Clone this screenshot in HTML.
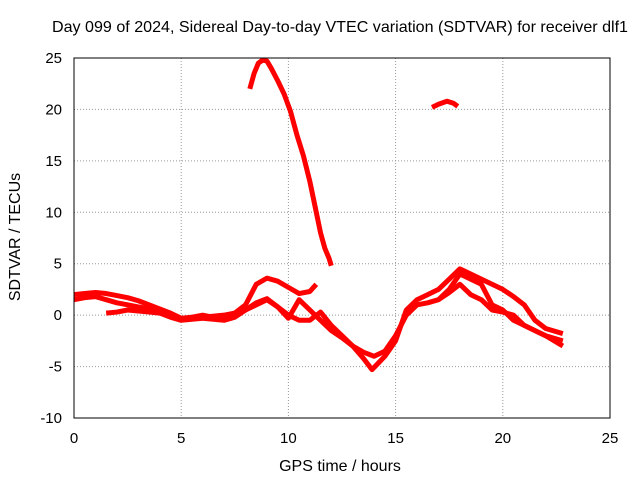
<!DOCTYPE html>
<html><head><meta charset="utf-8"><style>
body{margin:0;background:#fff}
svg{display:block;font-family:"Liberation Sans",sans-serif}
</style></head><body>
<svg id="chart" width="640" height="480">
<text x="340" y="32" text-anchor="middle" font-size="16" textLength="576" lengthAdjust="spacingAndGlyphs">Day 099 of 2024, Sidereal Day-to-day VTEC variation (SDTVAR) for receiver dlf1</text>
<text x="340" y="471" text-anchor="middle" font-size="16">GPS time / hours</text>
<text transform="translate(20,237) rotate(-90)" text-anchor="middle" font-size="16">SDTVAR / TECUs</text>
<g id="grid"></g><g id="marks"></g>
<rect x="74" y="58" width="536" height="360" fill="none" stroke="#000"/>
</svg>
<script>
const xTicks=[0,5,10,15,20,25];
const yTicks=[-10,-5,0,5,10,15,20,25];
const s1x=[8.2,8.4,8.6,8.8,9.0,9.2,9.5,9.8,10.1,10.4,10.7,11.0,11.3,11.5,11.7,11.9,12.0];
const s1y=[22,23.5,24.5,24.8,24.7,24,22.8,21.5,19.8,17.5,15.5,13,10,8,6.5,5.5,4.8];
const s2x=[16.7,17.0,17.4,17.7,17.9];
const s2y=[20.2,20.5,20.8,20.6,20.3];
const s3x=[0,0.5,1,1.5,2,2.5,3,3.5,4,4.5,5,5.5,6,6.5,7,7.5,8,8.5,9,9.5,10,10.5,11,11.3];
const s3y=[2,2.1,2.2,2.1,1.9,1.7,1.4,1.0,0.6,0.2,-0.3,-0.2,0,-0.2,-0.3,0.2,1.0,3.0,3.6,3.3,2.7,2.1,2.3,3.0];
const s4x=[0,0.5,1,1.5,2,2.5,3,3.5,4,4.5,5,6,7,7.5,8,8.5,9,9.5,10,10.5,11,11.5,12,12.5,13,13.5,14,14.5,15,15.5,16,16.5,17,17.5,18,18.5,19,19.5,20,20.5,21,21.5,22,22.8];
const s4y=[1.5,1.7,1.8,1.5,1.2,1.0,0.8,0.6,0.3,0,-0.4,-0.2,0,0.2,0.5,1.2,1.6,0.8,-0.3,1.5,0.5,-0.5,-1.5,-2.2,-3.0,-3.6,-4.0,-3.5,-2.0,0,1.0,1.2,1.5,2.5,4.0,3.5,3.0,1.0,0.5,-0.5,-1.0,-1.5,-2.0,-2.5];
const s5x=[1.5,2,2.5,3,3.5,4,4.5,5,6,7,7.5,8,8.5,9,9.5,10,10.5,11,11.5,12,12.5,13,13.5,13.9,14.5,15,15.5,16,16.5,17,17.5,18,18.5,19,19.5,20,20.5,21,21.5,22,22.8];
const s5y=[0.2,0.3,0.5,0.4,0.3,0.2,-0.2,-0.5,-0.3,-0.5,-0.2,0.5,1.0,1.5,0.8,0,-0.5,-0.5,0.3,-1.0,-2.0,-3.0,-4.2,-5.3,-4.0,-2.5,0.5,1.5,2.0,2.5,3.5,4.5,4.0,3.5,3.0,2.5,1.8,1.0,-0.5,-1.3,-1.8];
const s6x=[17,17.5,18,18.5,19,19.5,20,20.5,21,21.5,22,22.8];
const s6y=[1.5,2.2,3.0,2.0,1.5,0.5,0.3,0,-1.0,-1.5,-2.0,-3.0];
const X=v=>74+v*536/25, Y=v=>418-(v+10)*360/35;
const NS='http://www.w3.org/2000/svg';
const g=document.getElementById('grid'), m=document.getElementById('marks');
xTicks.forEach(t=>{
 const l=document.createElementNS(NS,'line');
 
 
 l.setAttribute('x1',X(t));l.setAttribute('x2',X(t));l.setAttribute('y1',58);l.setAttribute('y2',418);
 l.setAttribute('stroke',(t==0||t==25)?'none':'#999');l.setAttribute('stroke-dasharray','1,2');g.appendChild(l);
 const tx=document.createElementNS(NS,'text');
 
 
 tx.setAttribute('x',X(t));tx.setAttribute('y',443);tx.setAttribute('text-anchor','middle');tx.setAttribute('font-size','15');tx.textContent=t;g.appendChild(tx);
});
yTicks.forEach(t=>{
 const l=document.createElementNS(NS,'line');
 
 
 l.setAttribute('x1',74);l.setAttribute('x2',610);l.setAttribute('y1',Y(t));l.setAttribute('y2',Y(t));
 l.setAttribute('stroke',(t==-10||t==25)?'none':'#999');l.setAttribute('stroke-dasharray','1,2');g.appendChild(l);
 const tx=document.createElementNS(NS,'text');
 
 
 tx.setAttribute('x',62);tx.setAttribute('y',Y(t)+5);tx.setAttribute('text-anchor','end');tx.setAttribute('font-size','15');tx.textContent=t;g.appendChild(tx);
});
[[s1x,s1y],[s2x,s2y],[s3x,s3y],[s4x,s4y],[s5x,s5y],[s6x,s6y]].forEach((s,i)=>{
 const p=document.createElementNS(NS,'polyline');
 
 
 p.setAttribute('points',s[0].map((x,j)=>X(x)+','+Y(s[1][j])).join(' '));
 p.setAttribute('fill','none');p.setAttribute('stroke','#f00');p.setAttribute('stroke-width','5');p.setAttribute('stroke-linejoin','round');
 m.appendChild(p);
});
</script>
</body></html>
